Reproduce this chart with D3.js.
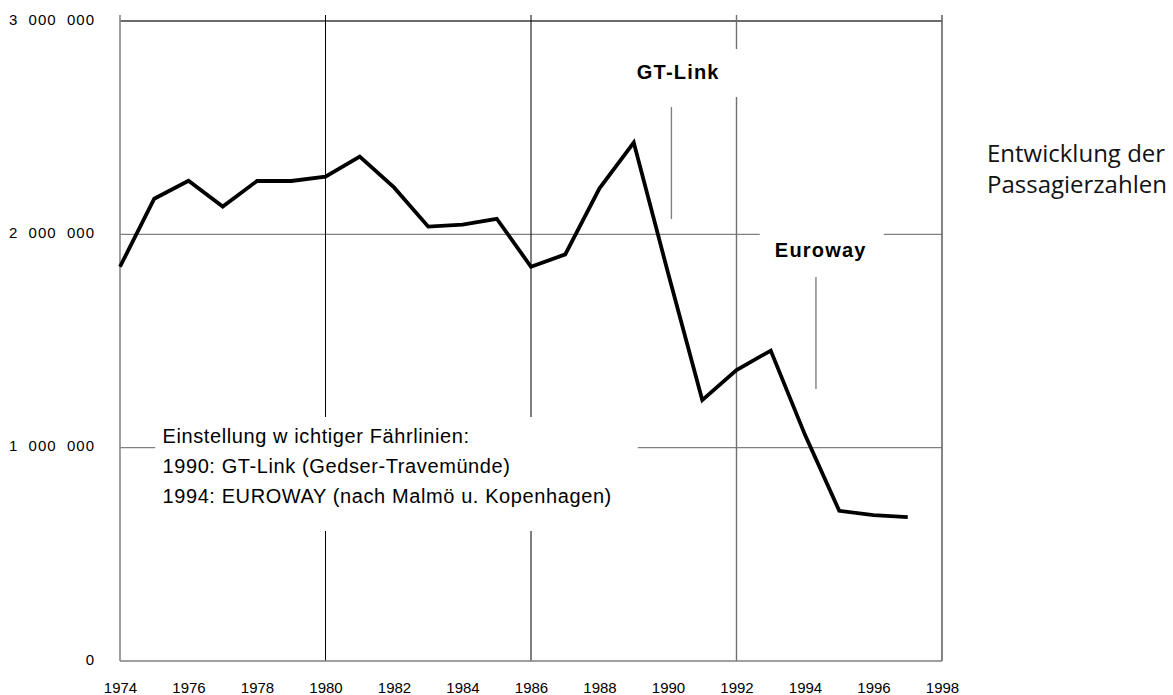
<!DOCTYPE html>
<html>
<head>
<meta charset="utf-8">
<script src="https://cdn.jsdelivr.net/npm/d3@7"></script>
<style>
  html, body { margin: 0; padding: 0; background: #fff; }
  svg { display: block; }
  text { font-family: Arial, "Liberation Sans", sans-serif; }
</style>
</head>
<body>
<div id="chart"></div>
<script>
// Passagiere pro Jahr
const years = [1974, 1975, 1976, 1977, 1978, 1979, 1980, 1981, 1982, 1983, 1984, 1985,
  1986, 1987, 1988, 1989, 1990, 1991, 1992, 1993, 1994, 1995, 1996, 1997];
const passengers = [1848000, 2167000, 2251000, 2130000, 2250000, 2250000, 2270000, 2364000,
  2220000, 2036000, 2045000, 2073000, 1848000, 1906000, 2216000, 2430000, 1820000, 1223000,
  1364000, 1455000, 1060000, 704000, 684000, 674000];

const yTicks = [0, 1000000, 2000000, 3000000];
const xTicks = [1974, 1976, 1978, 1980, 1982, 1984, 1986, 1988, 1990, 1992, 1994, 1996, 1998];
const vGridYears = [1980, 1986];
const noteLines = [
  "Einstellung w ichtiger Fährlinien:",
  "1990: GT-Link (Gedser-Travemünde)",
  "1994: EUROWAY (nach Malmö u. Kopenhagen)"
];
const titleLines = ["Entwicklung der", "Passagierzahlen"];

const width = 1173, height = 695;
const x = d3.scaleLinear().domain([1974, 1998]).range([120, 942]);
const y = d3.scaleLinear().domain([0, 3000000]).range([661, 21]);

const svg = d3.select("#chart").append("svg")
  .attr("width", width)
  .attr("height", height);

// horizontale Gitterlinien
svg.selectAll(".hgrid")
  .data(yTicks.filter(d => d > 0))
  .enter().append("line")
  .attr("x1", x(1974)).attr("x2", x(1998))
  .attr("y1", d => y(d)).attr("y2", d => y(d))
  .attr("stroke", d => d === 3000000 ? "#3a3a3a" : "#808080")
  .attr("stroke-width", 1.4);

// vertikale Gitterlinien
svg.selectAll(".vgrid")
  .data(vGridYears)
  .enter().append("line")
  .attr("x1", d => x(d)).attr("x2", d => x(d))
  .attr("y1", 15).attr("y2", y(0))
  .attr("stroke", "#000")
  .attr("stroke-width", 1);

svg.append("line")
  .attr("x1", x(1992)).attr("x2", x(1992))
  .attr("y1", 15).attr("y2", y(0))
  .attr("stroke", "#707070").attr("stroke-width", 1.4);

// Rahmen links, rechts, unten
svg.append("line")
  .attr("x1", x(1974)).attr("x2", x(1974))
  .attr("y1", 15).attr("y2", y(0))
  .attr("stroke", "#888").attr("stroke-width", 1.6);
svg.append("line")
  .attr("x1", x(1998)).attr("x2", x(1998))
  .attr("y1", 15).attr("y2", y(0))
  .attr("stroke", "#666").attr("stroke-width", 1.6);
svg.append("line")
  .attr("x1", x(1974)).attr("x2", x(1998))
  .attr("y1", y(0)).attr("y2", y(0))
  .attr("stroke", "#808080").attr("stroke-width", 1.6);

// weisse Flaechen hinter den Beschriftungen
svg.append("rect")
  .attr("x", x(1989.4)).attr("y", 49)
  .attr("width", x(1992.3) - x(1989.4)).attr("height", 48)
  .attr("fill", "#fff");
svg.append("rect")
  .attr("x", x(1992.68)).attr("y", 228)
  .attr("width", x(1996.3) - x(1992.68)).attr("height", 40)
  .attr("fill", "#fff");
svg.append("rect")
  .attr("x", x(1975.03)).attr("y", 417)
  .attr("width", x(1989.12) - x(1975.03)).attr("height", 114)
  .attr("fill", "#fff");

// Achsenbeschriftung y
const yAxis = svg.append("g")
  .attr("transform", "translate(95,0)")
  .call(d3.axisLeft(y).tickValues(yTicks).tickSize(0).tickPadding(0)
    .tickFormat(d => d3.format(",")(d).replace(/,/g, "  ")));
yAxis.select(".domain").remove();
yAxis.selectAll("text")
  .attr("dy", "0.2em")
  .style("font-size", "15px")
  .style("letter-spacing", "1px")
  .style("white-space", "pre")
  .style("fill", "#000");

// Achsenbeschriftung x
const xAxis = svg.append("g")
  .attr("transform", `translate(0,${y(0)})`)
  .call(d3.axisBottom(x).tickValues(xTicks).tickSize(0).tickPadding(0)
    .tickFormat(d3.format("d")));
xAxis.select(".domain").remove();
xAxis.selectAll("text")
  .attr("y", 31.5)
  .attr("dy", 0)
  .style("font-size", "15px")
  .style("fill", "#000");

// Hinweislinien
const leaders = [
  { year: 1990.1, from: 2597000, to: 2072000 },
  { year: 1994.32, from: 1800000, to: 1275000 }
];
svg.selectAll(".leader")
  .data(leaders)
  .enter().append("line")
  .attr("x1", d => x(d.year)).attr("x2", d => x(d.year))
  .attr("y1", d => y(d.from)).attr("y2", d => y(d.to))
  .attr("stroke", "#808080").attr("stroke-width", 1.4);

// Beschriftungen der Linien
const labels = [
  { text: "GT-Link", year: 1990.3, base: 79 },
  { text: "Euroway", year: 1994.46, base: 257 }
];
svg.selectAll(".lbl")
  .data(labels)
  .enter().append("text")
  .attr("x", d => x(d.year))
  .attr("y", d => d.base)
  .attr("text-anchor", "middle")
  .style("font-size", "20px")
  .style("font-weight", "bold")
  .style("letter-spacing", "1.2px")
  .style("fill", "#000")
  .text(d => d.text);

// Anmerkung
svg.selectAll(".note")
  .data(noteLines)
  .enter().append("text")
  .attr("x", x(1975.24))
  .attr("y", (d, i) => 443 + i * 30)
  .style("font-size", "20px")
  .style("letter-spacing", "0.6px")
  .style("fill", "#000")
  .text(d => d);

// Titel rechts
svg.selectAll(".title")
  .data(titleLines)
  .enter().append("text")
  .attr("x", 987)
  .attr("y", (d, i) => 162 + i * 30.5)
  .style("font-family", "'Open Sans', 'Noto Sans', sans-serif")
  .style("font-size", "24px")
  .style("fill", "#111")
  .text(d => d);

// Datenlinie
const line = d3.line()
  .x((d, i) => x(years[i]))
  .y(d => y(d));

svg.append("path")
  .datum(passengers)
  .attr("d", line)
  .attr("fill", "none")
  .attr("stroke", "#000")
  .attr("stroke-width", 3.8)
  .attr("stroke-linejoin", "miter");
</script>
</body>
</html>
